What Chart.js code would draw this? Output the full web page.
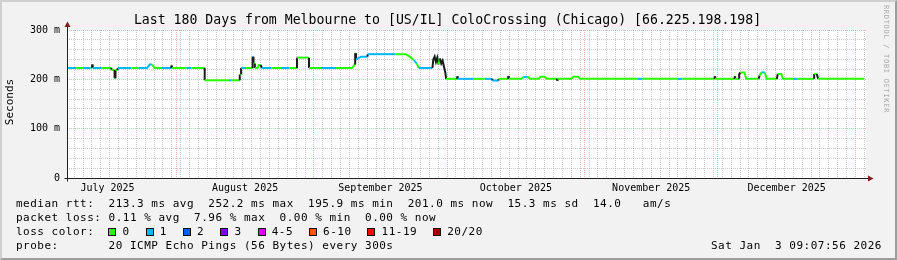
<!DOCTYPE html>
<html><head><meta charset="utf-8">
<script src="https://cdn.jsdelivr.net/npm/chart.js@4.4.1/dist/chart.umd.min.js"></script>
<style>
html,body{margin:0;padding:0;background:#f2f2f2;}
#wrap{position:relative;width:897px;height:260px;background:#f2f2f2;overflow:hidden;font-family:"DejaVu Sans Mono",monospace;color:#000;}
#frame{position:absolute;left:0;top:0;width:897px;height:260px;box-sizing:border-box;border-top:2px solid #cfcfcf;border-left:2px solid #cfcfcf;border-bottom:2px solid #9e9e9e;border-right:2px solid #9e9e9e;pointer-events:none;}
canvas{position:absolute;left:0;top:0;}
.t{position:absolute;white-space:pre;line-height:normal;}
.lg{font-size:11px;letter-spacing:0.5px;}
.box{position:absolute;width:6px;height:6px;border:1px solid #111;top:228px;}
</style></head>
<body>
<div id="wrap">
<canvas id="c" width="897" height="260"></canvas>
<div id="texts"></div>
<div id="frame"></div>
</div>
<script>
// ---- data (days since 1 Jul 2025, median rtt in ms, lost pings out of 20) ----
const days = [
 6.4, 8.5, 10.1, 11.7, 12.05, 12.05, 12.15, 12.15, 14.2, 16.4, 16.4, 17.1, 17.1, 17.3, 17.3, 17.8, 17.8,
 20.9, 22.5, 24.4, 25.0, 25.6, 26.1, 27.6, 29.9, 29.9, 30.0, 30.0, 33.3, 34.4, 37.4, 37.4, 42.9, 43.4,
 45.3, 45.3, 45.6, 45.6, 46.7, 48.2, 48.2, 48.4, 48.4, 48.7, 48.7, 49.3, 49.6, 50.0, 50.3, 52.4, 54.6,
 56.5, 58.2, 58.2, 60.9, 60.9, 63.6, 67.0, 70.6, 71.2, 71.3, 71.3, 71.5, 71.5, 72.6, 74.1, 74.1, 77.1,
 80.4, 82.7, 83.6, 84.5, 85.2, 85.6, 88.7, 88.9, 89.2, 89.5, 89.8, 90.1, 90.4, 90.7, 91.0, 91.3, 91.6,
 91.8, 94.3, 94.3, 94.4, 94.4, 97.9, 100.5, 102.2, 102.2, 103.6, 103.6, 105.8, 105.8, 105.9, 105.9,
 108.8, 109.3, 110.2, 110.7, 112.6, 113.1, 114.0, 114.5, 116.8, 116.8, 116.9, 116.9, 120.0, 120.5,
 121.5, 122.0, 135.0, 136.0, 144.0, 145.0, 152.3, 152.3, 152.4, 152.4, 156.8, 156.8, 156.9, 156.9,
 157.8, 157.8, 158.1, 159.0, 159.4, 162.2, 162.4, 162.8, 163.6, 164.0, 166.3, 166.5, 167.3, 167.7,
 170.0, 171.0, 174.7, 174.7, 175.3, 175.6, 186.0
];
const rttMs = [
 223, 223, 223, 223, 223, 230, 230, 223, 223, 223, 219, 219, 202, 202, 219, 219, 223,
 223, 223, 223, 230, 230, 223, 223, 223, 228, 228, 223, 223, 223, 223, 198, 198, 198,
 198, 210, 210, 223, 223, 223, 246, 246, 232, 232, 223, 223, 229, 229, 223, 223, 223,
 223, 223, 244, 244, 223, 223, 223, 223, 230, 230, 253, 253, 240, 246, 246, 251, 251,
 251, 251, 246, 239, 232, 223, 223, 240, 246, 235, 244, 230, 242, 232, 238, 226, 214,
 201, 201, 206, 206, 201, 201, 201, 201, 197.5, 197.5, 201, 201, 207, 207, 201,
 201, 205, 205, 201, 201, 205, 205, 201, 201, 197, 197, 201, 201, 205,
 205, 201, 201, 201, 201, 201, 201, 206, 206, 201, 201, 206, 206, 201,
 201, 210, 214, 214, 201, 201, 208, 214, 214, 201, 201, 211, 211, 201,
 201, 201, 201, 211, 211, 201, 201
];
const lossCount = [
 1, 0, 1, 0, 0, 0, 0, 1, 0, 0, 0, 0, 0, 0, 0, 0, 1,
 0, 1, 1, 1, 0, 0, 1, 0, 0, 0, 0, 1, 0, 0, 0, 1, 0,
 0, 0, 0, 1, 0, 0, 1, 1, 0, 0, 0, 0, 0, 0, 1, 0, 1,
 0, 0, 0, 0, 0, 1, 0, 0, 0, 0, 0, 0, 1, 1, 1, 1, 1,
 0, 0, 0, 1, 0, 1, 0, 0, 0, 0, 0, 0, 0, 0, 0, 0, 0,
 0, 0, 0, 0, 1, 0, 1, 0, 1, 0, 0, 0, 0, 0, 0,
 0, 1, 0, 0, 0, 0, 0, 0, 0, 0, 0, 0, 0, 0,
 0, 0, 1, 0, 1, 0, 0, 0, 0, 0, 0, 0, 0, 0,
 0, 0, 0, 0, 0, 0, 0, 1, 0, 0, 0, 0, 0, 0,
 1, 0, 0, 0, 0, 0, 0
];
const monthStarts = [31, 62, 92, 123, 153, 184];
const monthLabelDays = [15.5, 46.5, 77, 107.5, 138, 168.5];
const monthLabels = ['July 2025', 'August 2025', 'September 2025', 'October 2025', 'November 2025', 'December 2025'];
const yTickValues = [0, 100, 200, 300];
const yTickLabels = ['0', '100 m', '200 m', '300 m'];
const lossLegend = ['0', '1', '2', '3', '4-5', '6-10', '11-19', '20/20'];
const lossColors = ['#26ff00', '#00b8ff', '#0059ff', '#7e00ff', '#dd00ff', '#ff5500', '#ff0000', '#a10000'];
const rangeStart = 6.38, rangeEnd = 186.38;

// ---- texts ----
const T = document.getElementById('texts');
function txt(s, left, baseline, fs, cls, extra) {
  const d = document.createElement('div');
  d.className = 't ' + (cls || '');
  d.textContent = s;
  d.style.left = left + 'px';
  d.style.top = (baseline - 0.928 * fs) + 'px';
  d.style.fontSize = fs + 'px';
  if (extra) Object.assign(d.style, extra);
  T.appendChild(d);
  return d;
}
txt('Last 180 Days from Melbourne to [US/IL] ColoCrossing (Chicago) [66.225.198.198]', 0, 24, 13.2, '', {width: '895px', textAlign: 'center'});
const L1 = 207.5, L2 = 221.5, L3 = 235.5, L4 = 249.5;
txt('median rtt:  213.3 ms avg  252.2 ms max  195.9 ms min  201.0 ms now  15.3 ms sd  14.0   am/s', 16, L1, 11, 'lg');
txt('packet loss: 0.11 % avg  7.96 % max  0.00 % min  0.00 % now', 16, L2, 11, 'lg');
txt('loss color:', 16, L3, 11, 'lg');
const boxX = [108.3, 145.6, 182.9, 220.2, 257.5, 308.9, 367.4, 433];
lossLegend.forEach((s, i) => {
  const b = document.createElement('div');
  b.className = 'box';
  b.style.left = boxX[i] + 'px';
  b.style.background = lossColors[i];
  T.appendChild(b);
  txt(s, boxX[i] + 14.2, L3, 11, 'lg');
});
txt('probe:       20 ICMP Echo Pings (56 Bytes) every 300s', 16, L4, 11, 'lg');
txt('Sat Jan  3 09:07:56 2026', 711, L4, 11, 'lg');
const sec = document.createElement('div');
sec.className = 't'; sec.textContent = 'Seconds';
Object.assign(sec.style, {left: '-30px', top: '95px', width: '80px', height: '14px', lineHeight: '14px', fontSize: '11px', textAlign: 'center', transform: 'rotate(-90deg)'});
T.appendChild(sec);
const wm = document.createElement('div');
wm.className = 't'; wm.textContent = 'RRDTOOL / TOBI OETIKER';
Object.assign(wm.style, {left: '826px', top: '54px', width: '120px', height: '10px', lineHeight: '10px', fontSize: '7px', letterSpacing: '0.7px', textAlign: 'center', color: '#aaaaaa', transform: 'rotate(90deg)'});
T.appendChild(wm);

// ---- chart ----
const points = days.map((d, i) => ({x: d, y: rttMs[i]}));
const SMOKE = '#1c1c1c';
function segColor(c) {
  const dx = c.p1.parsed.x - c.p0.parsed.x;
  const dy = Math.abs(c.p1.parsed.y - c.p0.parsed.y);
  if (dx <= 0.3 && dy >= 3) return SMOKE;
  return lossColors[lossCount[c.p0DataIndex]];
}
const MINOR = 'rgba(150,150,150,0.5)';
const MAJOR = 'rgba(222,79,79,0.45)';
const AXIS = '#1f1f1f';
const ARROW = '#801f1f';

const bgPlugin = {
  id: 'bg',
  beforeDraw(chart) {
    const {ctx, chartArea: a} = chart;
    ctx.save(); ctx.fillStyle = '#ffffff';
    ctx.fillRect(a.left, a.top, a.right - a.left, a.bottom - a.top);
    ctx.restore();
  },
  afterDraw(chart) {
    const {ctx, chartArea: a} = chart;
    const L = Math.round(a.left) + 0.5, B = Math.round(a.bottom) + 0.5;
    ctx.save();
    ctx.strokeStyle = AXIS; ctx.lineWidth = 1;
    ctx.beginPath();
    ctx.moveTo(L, a.top - 4); ctx.lineTo(L, B + 3);
    ctx.moveTo(L - 3, B); ctx.lineTo(a.right + 4, B);
    ctx.stroke();
    ctx.fillStyle = ARROW;
    ctx.beginPath();
    ctx.moveTo(L, a.top - 8.5); ctx.lineTo(L - 3, a.top - 3); ctx.lineTo(L + 3, a.top - 3); ctx.closePath(); ctx.fill();
    ctx.beginPath();
    ctx.moveTo(a.right + 7.5, B); ctx.lineTo(a.right + 2, B - 3); ctx.lineTo(a.right + 2, B + 3); ctx.closePath(); ctx.fill();
    ctx.restore();
  }
};

new Chart(document.getElementById('c'), {
  type: 'line',
  data: {datasets: [{
    data: points,
    borderColor: lossColors[0],
    borderWidth: 2,
    pointRadius: 0,
    tension: 0,
    borderCapStyle: 'butt',
    segment: {borderColor: segColor}
  }]},
  plugins: [bgPlugin],
  options: {
    animation: false, responsive: false, devicePixelRatio: 1,
    layout: {padding: {left: 0, top: 30, right: 31, bottom: 62}},
    plugins: {legend: {display: false}, tooltip: {enabled: false}, title: {display: false}},
    scales: {
      x: {
        type: 'linear', min: rangeStart, max: rangeEnd, bounds: 'data',
        afterFit(s) { s.height = 20; },
        afterBuildTicks(s) {
          const t = [];
          for (let d = 0; d <= 186; d += 2) {
            if (d < rangeStart || d > rangeEnd) continue;
            if (monthStarts.some(m => Math.abs(m - d) < 0.6)) continue;
            t.push({value: d, kind: 'minor'});
          }
          monthStarts.forEach(m => t.push({value: m, kind: 'major'}));
          monthLabelDays.forEach((m, i) => t.push({value: m, kind: 'label', lbl: monthLabels[i]}));
          t.sort((a, b) => a.value - b.value);
          s.ticks = t;
        },
        grid: {
          drawTicks: false,
          lineWidth: 1,
          color: c => !c.tick ? MINOR : (c.tick.kind === 'major' ? MAJOR : (c.tick.kind === 'label' ? 'rgba(0,0,0,0)' : MINOR))
        },
        border: {display: false, dash: [1, 1]},
        ticks: {
          autoSkip: false, maxRotation: 0, minRotation: 0, padding: 4,
          color: '#000', font: {family: 'DejaVu Sans Mono', size: 10},
          callback: (v, i, ticks) => ticks[i].lbl || ''
        }
      },
      y: {
        min: 0, max: 300, bounds: 'data',
        afterFit(s) { s.width = 67; },
        afterBuildTicks(s) {
          const t = [];
          for (let v = 0; v <= 300; v += 20) t.push({value: v});
          s.ticks = t;
        },
        grid: {
          drawTicks: false, lineWidth: 1,
          color: c => (c.tick && c.tick.value % 100 === 0) ? MAJOR : MINOR
        },
        border: {display: false, dash: [1, 1]},
        ticks: {
          autoSkip: false, padding: 7,
          color: '#000', font: {family: 'DejaVu Sans Mono', size: 10},
          callback: v => { const k = yTickValues.indexOf(v); return k >= 0 ? yTickLabels[k] : ''; }
        }
      }
    }
  }
});
</script>
</body></html>
